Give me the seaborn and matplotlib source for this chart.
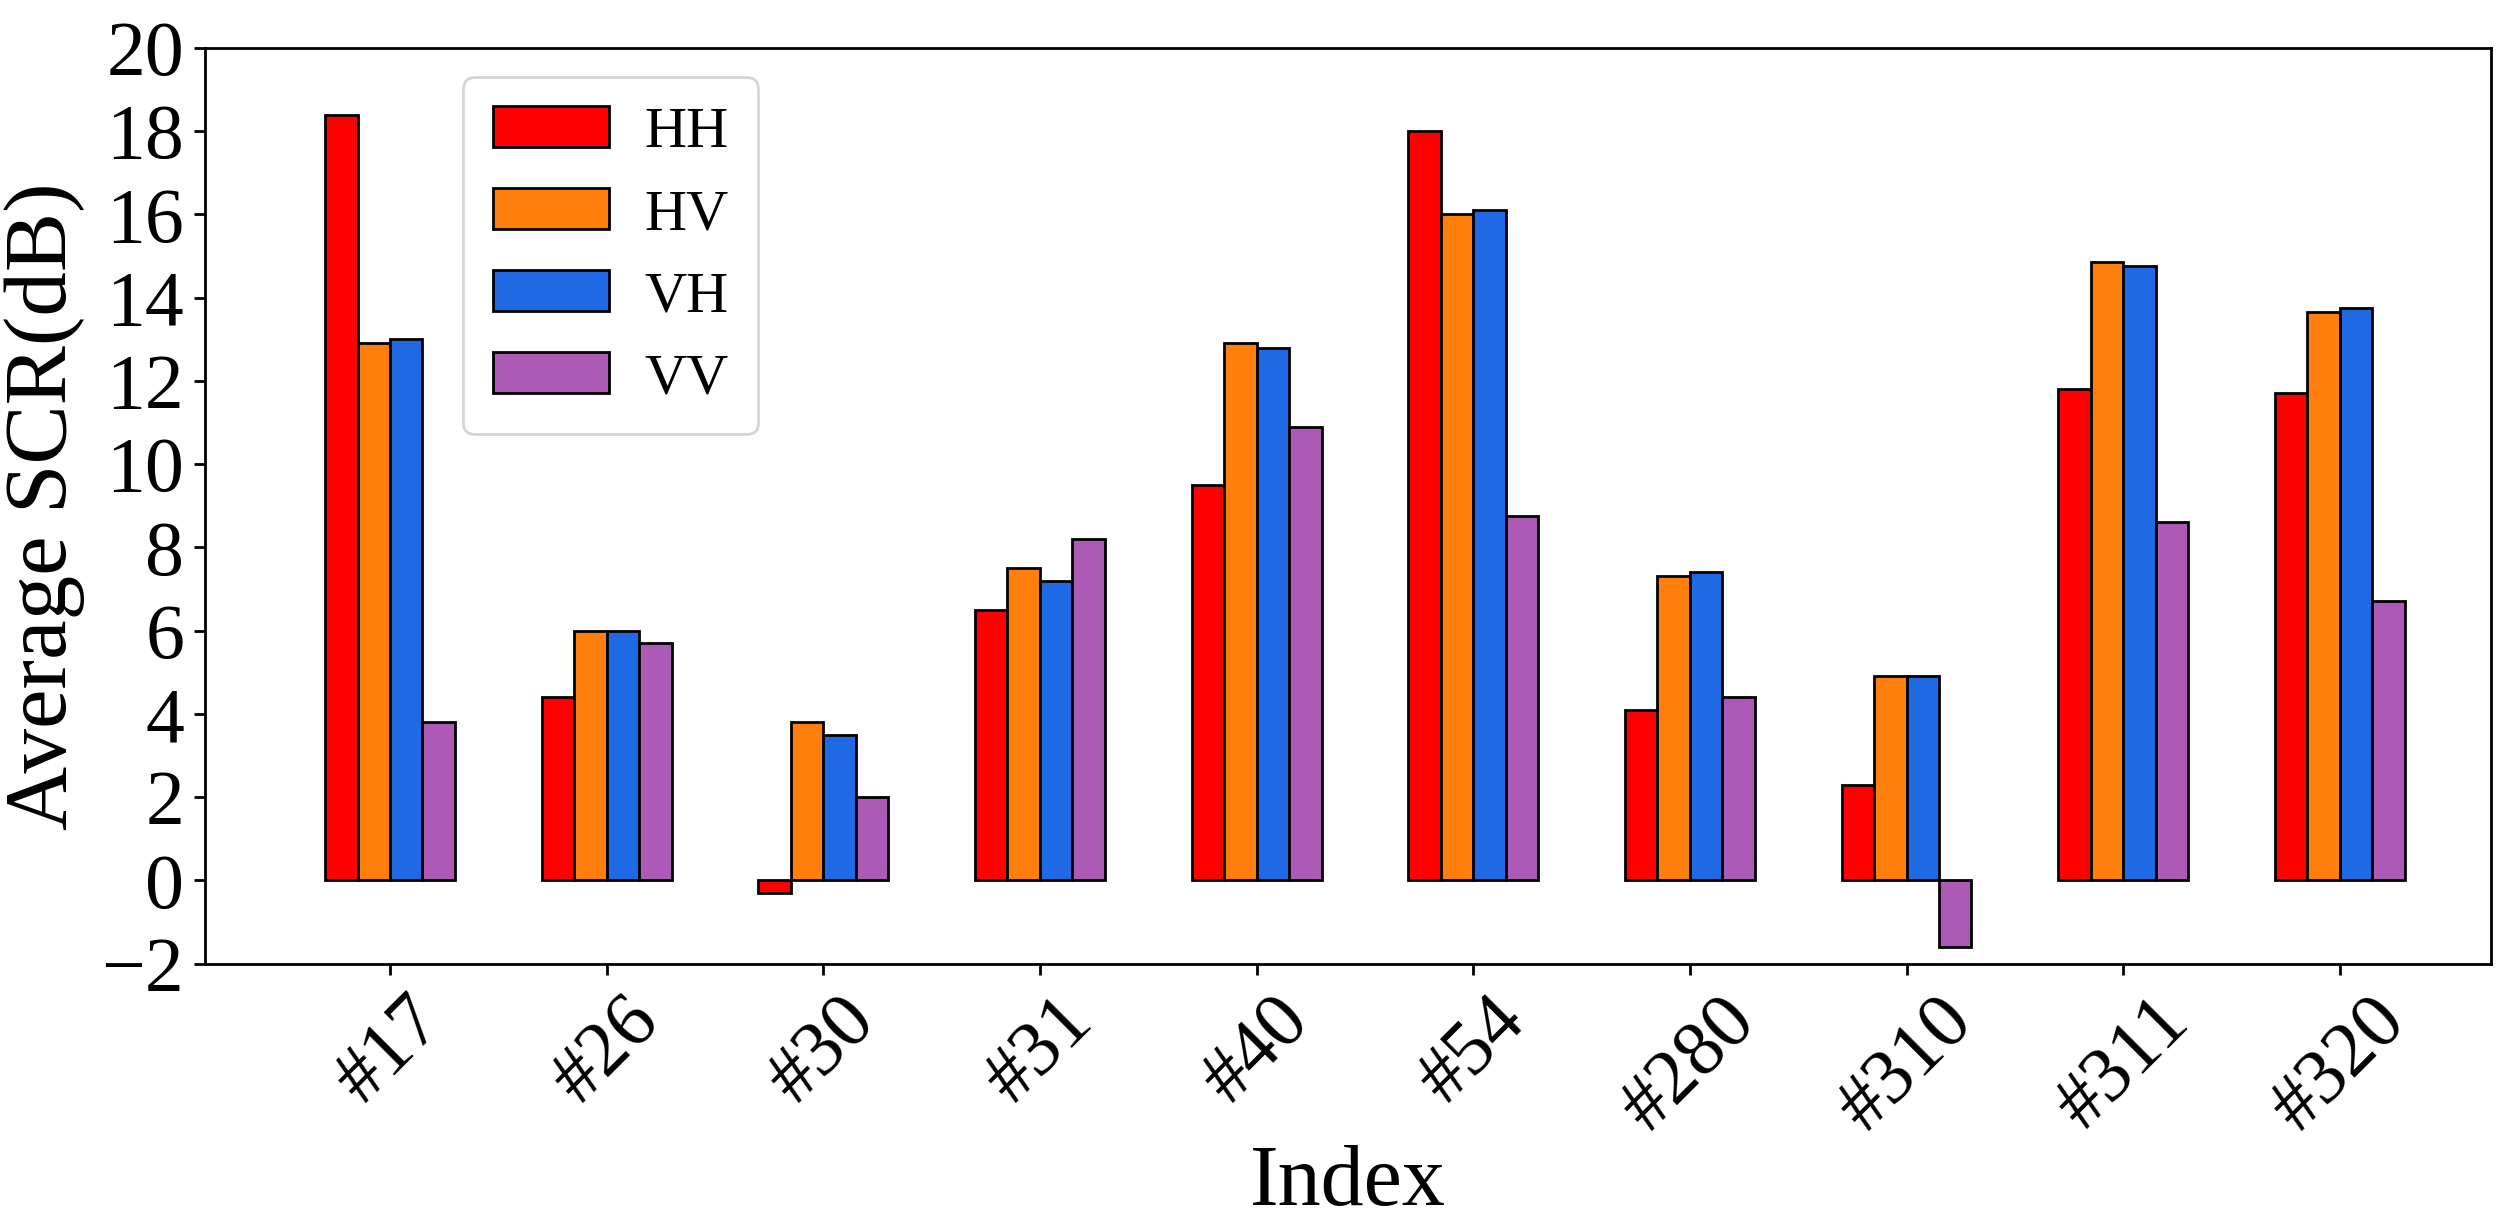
import pandas as pd
import matplotlib
matplotlib.use('Agg')
import matplotlib.pyplot as plt
import seaborn as sns

# Values
index_labels = ['#17', '#26', '#30', '#31', '#40', '#54', '#280', '#310', '#311', '#320']
hh = [18.4, 4.4, -0.3, 6.5, 9.5, 18.0, 4.1, 2.3, 11.8, 11.7]
hv = [12.9, 6.0, 3.8, 7.5, 12.9, 16.0, 7.3, 4.9, 14.85, 13.65]
vh = [13.0, 6.0, 3.5, 7.2, 12.8, 16.1, 7.4, 4.9, 14.75, 13.75]
vv = [3.8, 5.7, 2.0, 8.2, 10.9, 8.75, 4.4, -1.6, 8.6, 6.7]
pols = ['HH', 'HV', 'VH', 'VV']
colors = ['#ff0000', '#ff7f0e', '#1f69e4', '#ad5ab6']

# long format table for seaborn
df = pd.DataFrame({'Index': index_labels, 'HH': hh, 'HV': hv, 'VH': vh, 'VV': vv})
df = pd.melt(df, id_vars=['Index'], value_vars=pols, var_name='Pol', value_name='SCR')

sns.set_style('ticks')
plt.rcParams['font.family'] = ['Liberation Serif', 'DejaVu Serif']
plt.rcParams['text.color'] = 'black'
plt.rcParams['axes.labelcolor'] = 'black'
plt.rcParams['xtick.color'] = 'black'
plt.rcParams['ytick.color'] = 'black'

fig = plt.figure(figsize=(12.545, 6.145), dpi=200)
ax = fig.add_axes([0.0817, 0.216, 0.9113, 0.745])

sns.barplot(data=df, x='Index', y='SCR', hue='Pol', hue_order=pols,
            order=index_labels, palette=colors, width=0.6, gap=0,
            edgecolor='black', linewidth=1.0, saturation=1, ax=ax)

ax.set_xlim(-0.854, 9.70)
ax.set_ylim(-2, 20)
ax.set_yticks(range(-2, 21, 2))
ax.tick_params(axis='both', labelsize=28, direction='out', length=4, width=1, color='black')
plt.setp(ax.get_xticklabels(), rotation=45, ha='center')
for s in ax.spines.values():
    s.set_color('black')
    s.set_linewidth(1.0)

ax.set_xlabel('Index', fontsize=31, labelpad=0)
ax.set_ylabel('Average SCR(dB)', fontsize=32, labelpad=6)

ax.legend(loc='upper left', bbox_to_anchor=(0.113, 0.968), fontsize=21,
          handlelength=2.0, handleheight=0.7, handletextpad=0.6,
          labelspacing=0.5, borderpad=0.5, borderaxespad=0, frameon=True)

fig.savefig('out.png', dpi=200)
